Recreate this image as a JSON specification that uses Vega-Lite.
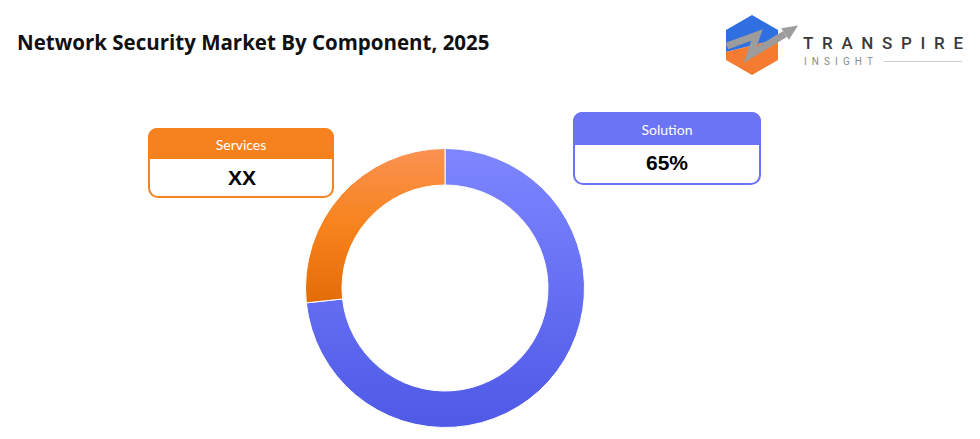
{
  "$schema": "https://vega.github.io/schema/vega-lite/v6.json",
  "width": 980,
  "height": 439,
  "autosize": {"type": "none"},
  "padding": 0,
  "background": "white",
  "config": {"view": {"stroke": null}},
  "data": {"values": [
    {"component": "Solution", "share": 73.3, "label": "65%"},
    {"component": "Services", "share": 26.7, "label": "XX"}
  ]},
  "layer": [
    {
      "data": {"values": [{"title": "Network Security Market By Component, 2025"}]},
      "mark": {"type": "text", "align": "left", "baseline": "alphabetic", "font": "Open Sans", "fontWeight": "bold", "fontSize": 20.5, "color": "#111111"},
      "encoding": {
        "x": {"datum": 17, "type": "quantitative", "scale": {"domain": [0, 980]}, "axis": null},
        "y": {"datum": 50, "type": "quantitative", "scale": {"domain": [0, 439], "reverse": true}, "axis": null},
        "text": {"field": "title"}
      }
    },
    {
      "mark": {"type": "arc", "outerRadius": 139.5, "innerRadius": 103, "stroke": "white", "strokeWidth": 1},
      "encoding": {
        "x": {"datum": 445, "type": "quantitative", "scale": {"domain": [0, 980]}, "axis": null},
        "y": {"datum": 288, "type": "quantitative", "scale": {"domain": [0, 439], "reverse": true}, "axis": null},
        "theta": {"field": "share", "type": "quantitative", "stack": true},
        "detail": {"field": "component"},
        "order": {"field": "share", "sort": "descending"},
        "color": {
          "condition": {"test": "datum.component === 'Services'", "value": {"gradient": "linear", "x1": 0, "y1": 0, "x2": 0, "y2": 1, "stops": [{"offset": 0, "color": "#FA9252"}, {"offset": 0.5, "color": "#F7831C"}, {"offset": 1, "color": "#E46C06"}]}},
          "value": {"gradient": "linear", "x1": 0, "y1": 0, "x2": 0, "y2": 1, "stops": [{"offset": 0, "color": "#7E86FF"}, {"offset": 1, "color": "#4E59E6"}]}
        }
      }
    },
    {
      "transform": [{"filter": "datum.component === 'Services'"}],
      "mark": {"type": "rect", "fill": "white", "stroke": "#F5821F", "strokeWidth": 2, "cornerRadius": 9},
      "encoding": {
        "x": {"datum": 149, "type": "quantitative", "scale": {"domain": [0, 980]}, "axis": null},
        "x2": {"datum": 333},
        "y": {"datum": 129, "type": "quantitative", "scale": {"domain": [0, 439], "reverse": true}, "axis": null},
        "y2": {"datum": 197}
      }
    },
    {
      "transform": [{"filter": "datum.component === 'Services'"}],
      "mark": {"type": "rect", "fill": "#F5821F", "cornerRadiusTopLeft": 9, "cornerRadiusTopRight": 9},
      "encoding": {
        "x": {"datum": 148, "type": "quantitative", "scale": {"domain": [0, 980]}, "axis": null},
        "x2": {"datum": 334},
        "y": {"datum": 128, "type": "quantitative", "scale": {"domain": [0, 439], "reverse": true}, "axis": null},
        "y2": {"datum": 159}
      }
    },
    {
      "transform": [{"filter": "datum.component === 'Services'"}],
      "mark": {"type": "text", "align": "center", "baseline": "alphabetic", "font": "Lato", "fontSize": 14, "color": "white"},
      "encoding": {
        "x": {"datum": 241, "type": "quantitative", "scale": {"domain": [0, 980]}, "axis": null},
        "y": {"datum": 149.5, "type": "quantitative", "scale": {"domain": [0, 439], "reverse": true}, "axis": null},
        "text": {"field": "component"}
      }
    },
    {
      "transform": [{"filter": "datum.component === 'Services'"}],
      "mark": {"type": "text", "align": "center", "baseline": "alphabetic", "font": "Liberation Sans", "fontWeight": "bold", "fontSize": 21, "color": "#000000"},
      "encoding": {
        "x": {"datum": 242, "type": "quantitative", "scale": {"domain": [0, 980]}, "axis": null},
        "y": {"datum": 185, "type": "quantitative", "scale": {"domain": [0, 439], "reverse": true}, "axis": null},
        "text": {"field": "label"}
      }
    },
    {
      "transform": [{"filter": "datum.component === 'Solution'"}],
      "mark": {"type": "rect", "fill": "white", "stroke": "#6C74F6", "strokeWidth": 2, "cornerRadius": 9},
      "encoding": {
        "x": {"datum": 574, "type": "quantitative", "scale": {"domain": [0, 980]}, "axis": null},
        "x2": {"datum": 760},
        "y": {"datum": 113, "type": "quantitative", "scale": {"domain": [0, 439], "reverse": true}, "axis": null},
        "y2": {"datum": 184}
      }
    },
    {
      "transform": [{"filter": "datum.component === 'Solution'"}],
      "mark": {"type": "rect", "fill": "#6C74F6", "cornerRadiusTopLeft": 9, "cornerRadiusTopRight": 9},
      "encoding": {
        "x": {"datum": 573, "type": "quantitative", "scale": {"domain": [0, 980]}, "axis": null},
        "x2": {"datum": 761},
        "y": {"datum": 112, "type": "quantitative", "scale": {"domain": [0, 439], "reverse": true}, "axis": null},
        "y2": {"datum": 145}
      }
    },
    {
      "transform": [{"filter": "datum.component === 'Solution'"}],
      "mark": {"type": "text", "align": "center", "baseline": "alphabetic", "font": "Lato", "fontSize": 14, "color": "white"},
      "encoding": {
        "x": {"datum": 667, "type": "quantitative", "scale": {"domain": [0, 980]}, "axis": null},
        "y": {"datum": 134.5, "type": "quantitative", "scale": {"domain": [0, 439], "reverse": true}, "axis": null},
        "text": {"field": "component"}
      }
    },
    {
      "transform": [{"filter": "datum.component === 'Solution'"}],
      "mark": {"type": "text", "align": "center", "baseline": "alphabetic", "font": "Liberation Sans", "fontWeight": "bold", "fontSize": 21, "color": "#000000"},
      "encoding": {
        "x": {"datum": 667, "type": "quantitative", "scale": {"domain": [0, 980]}, "axis": null},
        "y": {"datum": 170, "type": "quantitative", "scale": {"domain": [0, 439], "reverse": true}, "axis": null},
        "text": {"field": "label"}
      }
    },
    {
      "data": {"values": [{"brand": "TRANSPIRE"}]},
      "mark": {"type": "point", "filled": true, "size": 4900, "color": "#2F6FE0", "opacity": 1, "shape": "M -0.914 -0.429 L -0.171 -0.857 L 0.571 -0.429 L 0.571 -0.171 L -0.914 0.2 Z"},
      "encoding": {
        "x": {"datum": 758, "type": "quantitative", "scale": {"domain": [0, 980]}, "axis": null},
        "y": {"datum": 45, "type": "quantitative", "scale": {"domain": [0, 439], "reverse": true}, "axis": null}
      }
    },
    {
      "data": {"values": [{"brand": "TRANSPIRE"}]},
      "mark": {"type": "point", "filled": true, "size": 4900, "color": "#F47B30", "opacity": 1, "shape": "M -0.914 0.2 L 0.571 -0.171 L 0.571 0.429 L -0.171 0.857 L -0.914 0.429 Z"},
      "encoding": {
        "x": {"datum": 758, "type": "quantitative", "scale": {"domain": [0, 980]}, "axis": null},
        "y": {"datum": 45, "type": "quantitative", "scale": {"domain": [0, 439], "reverse": true}, "axis": null}
      }
    },
    {
      "data": {"values": [{"brand": "TRANSPIRE"}]},
      "mark": {"type": "point", "filled": false, "size": 4900, "stroke": "#9C9C9C", "strokeWidth": 7, "opacity": 1, "strokeJoin": "miter", "shape": "M -0.886 0.029 L -0.029 -0.286 L -0.229 0.286 L 0.771 -0.314"},
      "encoding": {
        "x": {"datum": 758, "type": "quantitative", "scale": {"domain": [0, 980]}, "axis": null},
        "y": {"datum": 45, "type": "quantitative", "scale": {"domain": [0, 439], "reverse": true}, "axis": null}
      }
    },
    {
      "data": {"values": [{"brand": "TRANSPIRE"}]},
      "mark": {"type": "point", "filled": true, "size": 4900, "color": "#9C9C9C", "opacity": 1, "shape": "M 0.883 -0.149 L 0.663 -0.48 L 1.143 -0.557 Z"},
      "encoding": {
        "x": {"datum": 758, "type": "quantitative", "scale": {"domain": [0, 980]}, "axis": null},
        "y": {"datum": 45, "type": "quantitative", "scale": {"domain": [0, 439], "reverse": true}, "axis": null}
      }
    },
    {
      "data": {"values": [{"brand": "T\u2002R\u2002A\u2002N\u2002S\u2002P\u2002I\u2002R\u2002E"}]},
      "mark": {"type": "text", "align": "left", "baseline": "alphabetic", "font": "Roboto", "fontWeight": 500, "fontSize": 17, "color": "#3A3A3A"},
      "encoding": {
        "x": {"datum": 803, "type": "quantitative", "scale": {"domain": [0, 980]}, "axis": null},
        "y": {"datum": 49, "type": "quantitative", "scale": {"domain": [0, 439], "reverse": true}, "axis": null},
        "text": {"field": "brand"}
      }
    },
    {
      "data": {"values": [{"tag": "I\u2002N\u2002S\u2002I\u2002G\u2002H\u2002T"}]},
      "mark": {"type": "text", "align": "left", "baseline": "alphabetic", "font": "Roboto", "fontSize": 10, "color": "#8A8A8A"},
      "encoding": {
        "x": {"datum": 804, "type": "quantitative", "scale": {"domain": [0, 980]}, "axis": null},
        "y": {"datum": 65, "type": "quantitative", "scale": {"domain": [0, 439], "reverse": true}, "axis": null},
        "text": {"field": "tag"}
      }
    },
    {
      "data": {"values": [{"tag": "INSIGHT"}]},
      "mark": {"type": "rule", "color": "#CFCFCF", "strokeWidth": 1},
      "encoding": {
        "x": {"datum": 884, "type": "quantitative", "scale": {"domain": [0, 980]}, "axis": null},
        "x2": {"datum": 962},
        "y": {"datum": 61.5, "type": "quantitative", "scale": {"domain": [0, 439], "reverse": true}, "axis": null}
      }
    }
  ]
}
